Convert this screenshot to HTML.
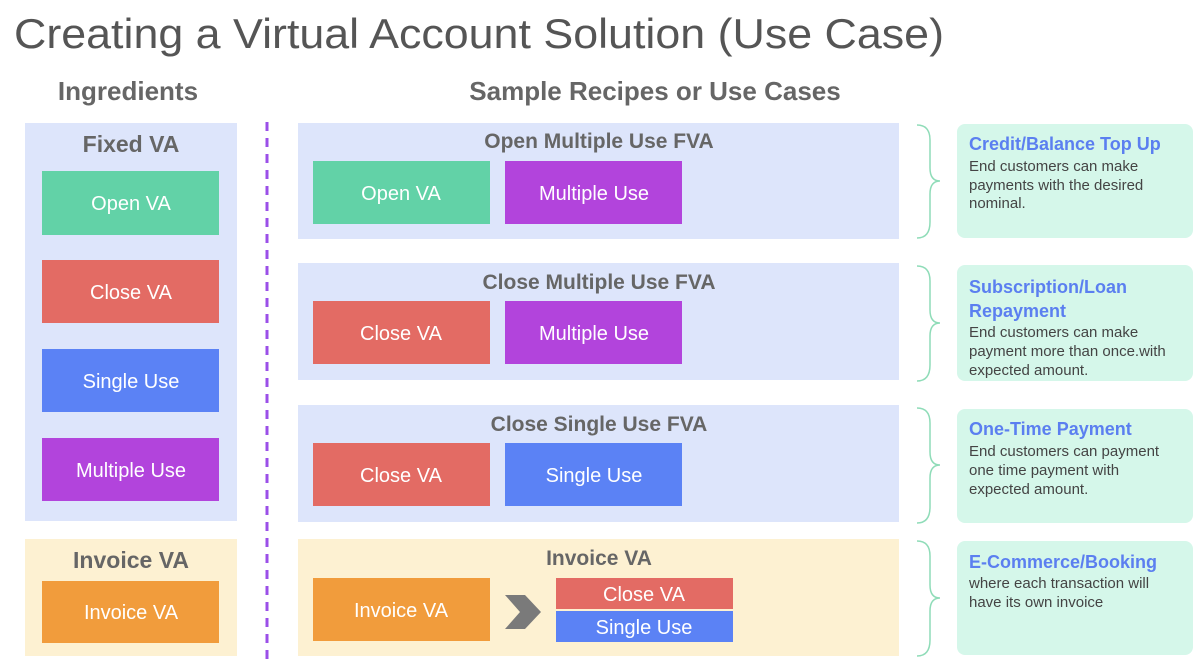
<!DOCTYPE html>
<html><head><meta charset="utf-8"><style>
html,body{margin:0;padding:0;background:#fff;width:1200px;height:666px;overflow:hidden}
svg{display:block}
text{font-family:"Liberation Sans",sans-serif}
.h{font-weight:bold;fill:#666;text-anchor:middle}
.w{fill:#fff;text-anchor:middle;font-size:20px}
.ct{font-weight:bold;fill:#5b7ff0;font-size:18px}
.cb{fill:#444;font-size:15px}
</style></head><body>
<svg width="1200" height="666" viewBox="0 0 1200 666">
<text x="14" y="48" font-size="42" fill="#555" textLength="930" lengthAdjust="spacingAndGlyphs">Creating a Virtual Account Solution (Use Case)</text>
<text x="128" y="100" class="h" font-size="26">Ingredients</text>
<text x="655" y="100" class="h" font-size="26">Sample Recipes or Use Cases</text>

<rect x="25" y="123" width="212" height="398" fill="#dde5fb"/>
<rect x="25" y="539" width="212" height="117" fill="#fdf1d2"/>
<text x="131" y="152" class="h" font-size="23">Fixed VA</text>
<rect x="42" y="171" width="177" height="64" fill="#62d2a7"/><text x="131" y="210" class="w">Open VA</text>
<rect x="42" y="260" width="177" height="63" fill="#e36b64"/><text x="131" y="299" class="w">Close VA</text>
<rect x="42" y="349" width="177" height="63" fill="#5b82f5"/><text x="131" y="388" class="w">Single Use</text>
<rect x="42" y="438" width="177" height="63" fill="#b244dc"/><text x="131" y="477" class="w">Multiple Use</text>
<text x="131" y="568" class="h" font-size="23">Invoice VA</text>
<rect x="42" y="581" width="177" height="62" fill="#f19c3c"/><text x="131" y="619" class="w">Invoice VA</text>

<line x1="267" y1="122" x2="267" y2="666" stroke="#9b4fe8" stroke-width="3" stroke-dasharray="9,7"/>

<rect x="298" y="123" width="601" height="116" fill="#dde5fb"/>
<text x="599" y="148" class="h" font-size="21">Open Multiple Use FVA</text>
<rect x="313" y="161" width="177" height="63" fill="#62d2a7"/><text x="401" y="200" class="w">Open VA</text>
<rect x="505" y="161" width="177" height="63" fill="#b244dc"/><text x="594" y="200" class="w">Multiple Use</text>

<rect x="298" y="263" width="601" height="117" fill="#dde5fb"/>
<text x="599" y="289" class="h" font-size="21">Close Multiple Use FVA</text>
<rect x="313" y="301" width="177" height="63" fill="#e36b64"/><text x="401" y="340" class="w">Close VA</text>
<rect x="505" y="301" width="177" height="63" fill="#b244dc"/><text x="594" y="340" class="w">Multiple Use</text>

<rect x="298" y="405" width="601" height="117" fill="#dde5fb"/>
<text x="599" y="431" class="h" font-size="21">Close Single Use FVA</text>
<rect x="313" y="443" width="177" height="63" fill="#e36b64"/><text x="401" y="482" class="w">Close VA</text>
<rect x="505" y="443" width="177" height="63" fill="#5b82f5"/><text x="594" y="482" class="w">Single Use</text>

<rect x="298" y="539" width="601" height="117" fill="#fdf1d2"/>
<text x="599" y="565" class="h" font-size="21">Invoice VA</text>
<rect x="313" y="578" width="177" height="63" fill="#f19c3c"/><text x="401" y="617" class="w">Invoice VA</text>
<polygon points="505,595 525,595 541,612 525,629 505,629 520,612" fill="#7a7a7a"/>
<rect x="556" y="578" width="177" height="31" fill="#e36b64"/><text x="644" y="601" class="w">Close VA</text>
<rect x="556" y="611" width="177" height="31" fill="#5b82f5"/><text x="644" y="634" class="w">Single Use</text>

<g fill="none" stroke="#8fdcb8" stroke-width="1.5">
<path d="M917,125 Q930,125 930,140 L930,168 Q930,181 940,181 Q930,181 930,194 L930,222 Q930,238 917,238"/>
<path d="M917,266 Q930,266 930,281 L930,310 Q930,323 940,323 Q930,323 930,336 L930,365 Q930,381 917,381"/>
<path d="M917,408 Q930,408 930,423 L930,452 Q930,465 940,465 Q930,465 930,478 L930,507 Q930,523 917,523"/>
<path d="M917,541 Q930,541 930,556 L930,585 Q930,598 940,598 Q930,598 930,611 L930,640 Q930,656 917,656"/>
</g>

<rect x="957" y="124" width="236" height="114" rx="8" fill="#d5f7ea"/>
<text x="969" y="150" class="ct">Credit/Balance Top Up</text>
<text x="969" y="171" class="cb">End customers can make</text>
<text x="969" y="190" class="cb">payments with the desired</text>
<text x="969" y="208" class="cb">nominal.</text>

<rect x="957" y="265" width="236" height="116" rx="8" fill="#d5f7ea"/>
<text x="969" y="293" class="ct">Subscription/Loan</text>
<text x="969" y="317" class="ct">Repayment</text>
<text x="969" y="337" class="cb">End customers can make</text>
<text x="969" y="356" class="cb">payment more than once.with</text>
<text x="969" y="375" class="cb">expected amount.</text>

<rect x="957" y="409" width="236" height="114" rx="8" fill="#d5f7ea"/>
<text x="969" y="435" class="ct">One-Time Payment</text>
<text x="969" y="456" class="cb">End customers can payment</text>
<text x="969" y="475" class="cb">one time payment with</text>
<text x="969" y="494" class="cb">expected amount.</text>

<rect x="957" y="541" width="236" height="114" rx="8" fill="#d5f7ea"/>
<text x="969" y="568" class="ct">E-Commerce/Booking</text>
<text x="969" y="588" class="cb">where each transaction will</text>
<text x="969" y="607" class="cb">have its own invoice</text>
</svg>
</body></html>
